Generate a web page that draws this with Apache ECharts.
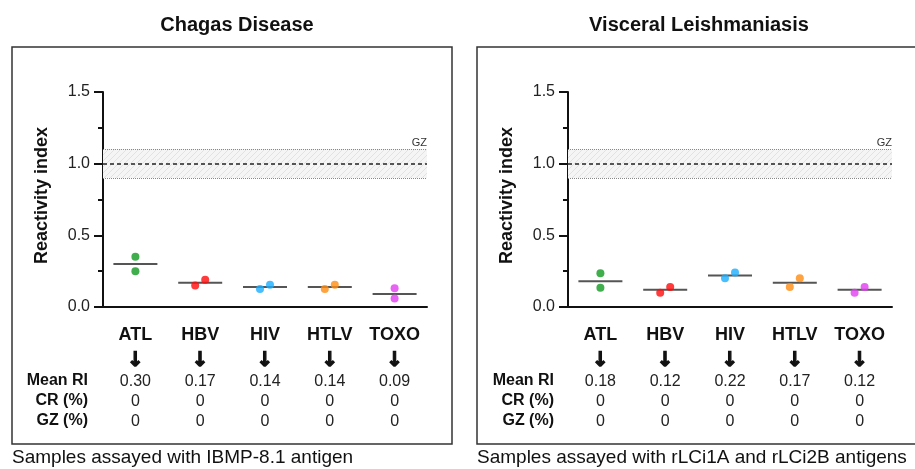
<!DOCTYPE html>
<html>
<head>
<meta charset="utf-8">
<script src="https://cdn.jsdelivr.net/npm/echarts@6/dist/echarts.min.js"></script>
<style>
  html, body { margin: 0; padding: 0; background: #fff; }
  #chart { width: 915px; height: 469px; }
</style>
</head>
<body>
<div id="chart"></div>
<script>
    // data
    var categories = ['ATL', 'HBV', 'HIV', 'HTLV', 'TOXO'];
    var dotColors = ['#129a22', '#ff0a0a', '#1aaeff', '#ff8c12', '#e03cf0'];

    // Chagas Disease (IBMP-8.1) - two samples per group
    var chagasSamples = [[0.35, 0.25], [0.15, 0.19], [0.125, 0.155], [0.125, 0.155], [0.13, 0.06]];
    var chagasMean = [0.30, 0.17, 0.14, 0.14, 0.09];
    var chagasCR = [0, 0, 0, 0, 0];
    var chagasGZ = [0, 0, 0, 0, 0];

    // Visceral Leishmaniasis (rLCi1A + rLCi2B)
    var leishSamples = [[0.235, 0.135], [0.10, 0.14], [0.20, 0.24], [0.14, 0.20], [0.10, 0.14]];
    var leishMean = [0.18, 0.12, 0.22, 0.17, 0.12];
    var leishCR = [0, 0, 0, 0, 0];
    var leishGZ = [0, 0, 0, 0, 0];

    var yTicks = [0, 0.5, 1.0, 1.5];
    var cutoff = 1.0;
    var grayZone = [0.9, 1.1];

    var FONT = 'Liberation Sans, Arial, sans-serif';

    // hatch pattern for the gray zone
    var hatch = document.createElement('canvas');
    hatch.width = 6; hatch.height = 6;
    var hc = hatch.getContext('2d');
    hc.fillStyle = '#f5f5f5';
    hc.fillRect(0, 0, 6, 6);
    hc.strokeStyle = '#e2e2e2';
    hc.lineWidth = 1;
    hc.beginPath();
    hc.moveTo(0, 6); hc.lineTo(6, 0);
    hc.moveTo(-1, 1); hc.lineTo(1, -1);
    hc.moveTo(5, 7); hc.lineTo(7, 5);
    hc.stroke();

    function scatterData(samples) {
        var out = [];
        samples.forEach(function (pair, i) {
            var close = Math.abs(pair[0] - pair[1]) < 0.065;
            var lo = Math.min(pair[0], pair[1]);
            pair.forEach(function (v, k) {
                var dx = 0;
                if (close) dx = (v === lo && k === pair.indexOf(lo)) ? -5 : 5;
                out.push({
                    value: [i, v],
                    symbolOffset: [dx, 0],
                    itemStyle: { color: dotColors[i] }
                });
            });
        });
        return out;
    }

    function labelFormatter(mean, cr, gz) {
        return function (v, i) {
            return '{c|' + v + '}\n{a|\u2193}\n{n|' + mean[i].toFixed(2) + '}\n{n|' + cr[i] + '}\n{n|' + gz[i] + '}';
        };
    }

    function xAxisFor(idx, mean, cr, gz) {
        return {
            type: 'category',
            gridIndex: idx,
            data: categories,
            axisLine: { lineStyle: { color: '#111', width: 2 } },
            axisTick: { alignWithLabel: true, length: 9, lineStyle: { color: '#111', width: 2 } },
            axisLabel: {
                margin: 13,
                interval: 0,
                formatter: labelFormatter(mean, cr, gz),
                rich: {
                    c: { fontFamily: FONT, fontWeight: 'bold', fontSize: 18, color: '#111', lineHeight: 30 },
                    a: { fontFamily: 'DejaVu Sans', fontWeight: 'bold', fontSize: 20, color: '#111', lineHeight: 22,
                         textBorderColor: '#111', textBorderWidth: 1.2 },
                    n: { fontFamily: FONT, fontSize: 16, color: '#222', lineHeight: 20 }
                }
            }
        };
    }

    function yAxisFor(idx) {
        return {
            type: 'value',
            gridIndex: idx,
            min: yTicks[0],
            max: yTicks[yTicks.length - 1],
            interval: 0.5,
            name: 'Reactivity index',
            nameLocation: 'middle',
            nameGap: 52,
            nameTextStyle: { fontFamily: FONT, fontWeight: 'bold', fontSize: 18, color: '#111', padding: [0, 0, 0, 8] },
            axisLine: { show: true, lineStyle: { color: '#111', width: 2 } },
            axisTick: { show: true, length: 9, lineStyle: { color: '#111', width: 2 } },
            minorTick: { show: true, splitNumber: 2, length: 5, lineStyle: { color: '#111', width: 2 } },
            splitLine: { show: false },
            axisLabel: {
                margin: 13,
                fontFamily: FONT, fontSize: 16, color: '#222',
                formatter: function (v) { return v.toFixed(1); }
            }
        };
    }

    function panelSeries(idx, samples, mean) {
        return [
            {
                type: 'scatter',
                xAxisIndex: idx, yAxisIndex: idx,
                symbolSize: 8,
                data: scatterData(samples),
                z: 5,
                markArea: {
                    silent: true,
                    itemStyle: { color: { image: hatch, repeat: 'repeat' } },
                    data: [[{ yAxis: grayZone[0] }, { yAxis: grayZone[1] }]]
                },
                markLine: {
                    silent: true,
                    symbol: 'none',
                    label: { show: false },
                    data: [
                        { yAxis: grayZone[0], lineStyle: { color: '#888', type: 'dotted', width: 1 } },
                        { yAxis: grayZone[1], lineStyle: { color: '#888', type: 'dotted', width: 1 } },
                        { yAxis: cutoff, lineStyle: { color: '#222', type: [4, 3], width: 1.5 } }
                    ]
                }
            },
            {
                type: 'custom',
                xAxisIndex: idx, yAxisIndex: idx,
                data: mean.map(function (m, i) { return [i, m]; }),
                z: 4,
                renderItem: function (params, api) {
                    var p = api.coord([api.value(0), api.value(1)]);
                    return {
                        type: 'line',
                        shape: { x1: p[0] - 22, y1: p[1], x2: p[0] + 22, y2: p[1] },
                        style: { stroke: '#555', lineWidth: 2 }
                    };
                }
            }
        ];
    }

    function rowLabels(right) {
        var rows = [['Mean RI', 381], ['CR (%)', 401], ['GZ (%)', 421]];
        return rows.map(function (r) {
            return {
                type: 'text', x: right, y: r[1],
                style: {
                    text: r[0], fontFamily: FONT, fontWeight: 'bold', fontSize: 16, fill: '#111',
                    textAlign: 'right', textVerticalAlign: 'middle'
                }
            };
        });
    }

    var myChart = echarts.init(document.getElementById('chart'));
    var option = {
        animation: false,
        title: [
            { text: 'Chagas Disease', left: 232, top: 10, textAlign: 'center',
              textStyle: { fontFamily: FONT, fontWeight: 'bold', fontSize: 20, color: '#111' } },
            { text: 'Visceral Leishmaniasis', left: 694, top: 10, textAlign: 'center',
              textStyle: { fontFamily: FONT, fontWeight: 'bold', fontSize: 20, color: '#111' } }
        ],
        grid: [
            { left: 103, top: 92, width: 324, height: 215 },
            { left: 568, top: 92, width: 324, height: 215 }
        ],
        xAxis: [
            xAxisFor(0, chagasMean, chagasCR, chagasGZ),
            xAxisFor(1, leishMean, leishCR, leishGZ)
        ],
        yAxis: [yAxisFor(0), yAxisFor(1)],
        series: panelSeries(0, chagasSamples, chagasMean).concat(panelSeries(1, leishSamples, leishMean)),
        graphic: [
            { type: 'rect', shape: { x: 12, y: 47, width: 440, height: 397 },
              style: { fill: 'none', stroke: '#333', lineWidth: 1.5 } },
            { type: 'rect', shape: { x: 477, y: 47, width: 460, height: 397 },
              style: { fill: 'none', stroke: '#333', lineWidth: 1.5 } },
            { type: 'text', x: 427, y: 143, style: { text: 'GZ', fontFamily: FONT, fontSize: 11, fill: '#333', textAlign: 'right', textVerticalAlign: 'middle' } },
            { type: 'text', x: 892, y: 143, style: { text: 'GZ', fontFamily: FONT, fontSize: 11, fill: '#333', textAlign: 'right', textVerticalAlign: 'middle' } },
            { type: 'text', x: 12, y: 458, style: { text: 'Samples assayed with IBMP-8.1 antigen', fontFamily: FONT, fontSize: 19, fill: '#111', textVerticalAlign: 'middle' } },
            { type: 'text', x: 477, y: 458, style: { text: 'Samples assayed with rLCi1A and rLCi2B antigens', fontFamily: FONT, fontSize: 19, fill: '#111', textVerticalAlign: 'middle' } }
        ].concat(rowLabels(88)).concat(rowLabels(554))
    };
    myChart.setOption(option);
</script>
</body>
</html>
